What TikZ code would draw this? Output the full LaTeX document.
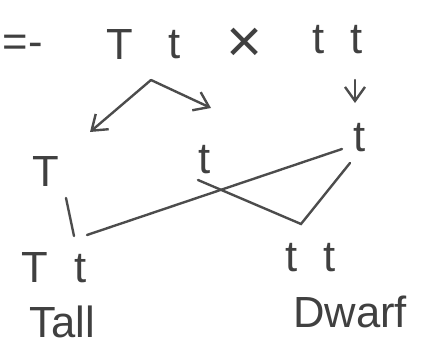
\documentclass[tikz,border=0pt]{standalone}
\usepackage{fontspec}
\setmainfont{Liberation Sans}
\usetikzlibrary{arrows.meta}
\tikzset{
  gn/.style={font=\fontsize{31}{34}\selectfont,text=black!75,inner sep=1pt},
  lnk/.style={draw=black!70,line width=1.7pt,line cap=round},
  ar/.style={lnk,-{Straight Barb[length=3.5mm,width=5mm]}},
}
\newcommand{\lgap}{\hspace{6.5mm}}
\begin{document}
\begin{tikzpicture}[x=0.025cm,y=-0.025cm]
\useasboundingbox (0,0) rectangle (422,349);
% ---- parents
\node[gn,anchor=west] (lead) at (1,46) {=-};
\node[gn] (pT) at (120,45) {T};
\node[gn] (pt) at (175,45) {t};
\node[gn,font=\fontsize{44}{44}\selectfont] (cross) at (245,45) {×};
\node[gn] (ptt) at (338,40) {t\lgap t};
% ---- gametes
\coordinate (apex) at (151,80);
\coordinate (aL) at (90,132);
\coordinate (aR) at (211,108);
\coordinate (dtop) at (355,80);
\coordinate (dbot) at (355,103);
\draw[ar] (apex) -- (aR);
\draw[ar] (apex) -- (aL);
\draw[ar] (dtop) -- (dbot);
\node[gn] (gT) at (46,172) {T};
\node[gn] (gt) at (205,160) {t};
\node[gn] (gtr) at (360,138) {t};
% ---- offspring
\node[gn] (oTt) at (54,268) {T\lgap t};
\node[gn] (ott) at (311,258) {t\lgap t};
\node[gn] (tall) at (62,322) {Tall};
\node[gn] (dwarf) at (350,312) {Dwarf};
\coordinate (s1) at (66,198);
\coordinate (e1) at (74,236);
\coordinate (s2) at (87,235);
\coordinate (e2) at (342,149);
\coordinate (s3) at (198,180);
\coordinate (knee) at (301,224);
\coordinate (e3) at (350,163);
\draw[lnk] (s1) -- (e1);
\draw[lnk] (s2) -- (e2);
\draw[lnk] (s3) -- (knee) -- (e3);
\end{tikzpicture}
\end{document}
